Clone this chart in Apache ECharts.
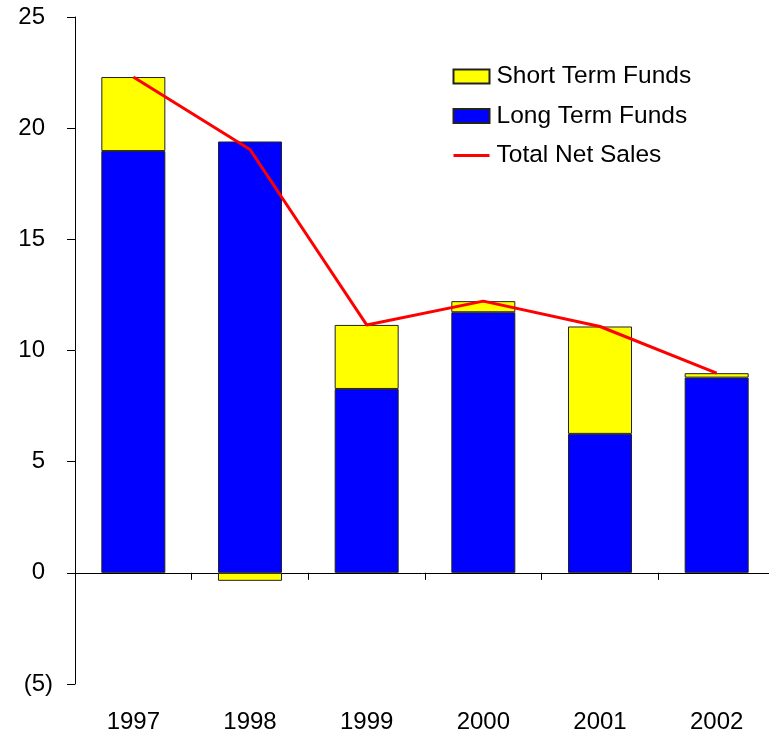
<!DOCTYPE html>
<html><head><meta charset="utf-8">
<script src="https://cdn.jsdelivr.net/npm/echarts@6/dist/echarts.min.js"></script>
<style>html,body{margin:0;padding:0;background:#fff}#c{width:769px;height:734px}</style>
</head><body><div id="c"></div>
<script>
const categories = ['1997','1998','1999','2000','2001','2002'];
const shortTerm = [3.33, -0.36, 2.88, 0.5, 4.83, 0.2];
const longTerm = [18.97, 19.4, 8.27, 11.72, 6.25, 8.78];
const totalNet = [22.3, 19.04, 11.15, 12.22, 11.08, 8.98];
const yTicks = [-5, 0, 5, 10, 15, 20, 25];

const chart = echarts.init(document.getElementById('c'));
const font = 'Liberation Sans, Arial, sans-serif';
chart.setOption({
  animation: false,
  backgroundColor: '#fff',
  grid: {left: 75, right: -6, top: 17, bottom: 50, containLabel: false, outerBoundsMode: 'none'},
  legend: {
    orient: 'vertical', left: 447, top: 59, itemWidth: 36, itemHeight: 14, itemGap: 14.5,
    textStyle: {fontFamily: font, fontSize: 24.5, color: '#000', padding: [0,0,0,2]},
    data: [
      {name: 'Short Term Funds', icon: 'rect'},
      {name: 'Long Term Funds', icon: 'rect'},
      {name: 'Total Net Sales', icon: 'line', itemStyle: {color: '#FF0000', borderColor: '#FF0000', borderWidth: 3}}
    ]
  },
  xAxis: [
    {
      type: 'category', data: categories,
      axisLine: {onZero: true, lineStyle: {color: '#000', width: 1}},
      axisTick: {show: true, inside: false, length: 7, lineStyle: {color: '#000'}},
      axisLabel: {show: false},
      splitLine: {show: false}
    },
    {
      type: 'category', data: categories, position: 'bottom',
      axisLine: {show: false, onZero: false},
      axisTick: {show: false},
      axisLabel: {fontFamily: font, fontSize: 24, color: '#000', margin: 26},
      splitLine: {show: false}
    }
  ],
  yAxis: {
    type: 'value', min: yTicks[0], max: yTicks[yTicks.length-1], interval: 5,
    axisLine: {show: true, lineStyle: {color: '#000', width: 1}},
    axisTick: {show: true, length: 8, lineStyle: {color: '#000'}},
    splitLine: {show: false},
    axisLabel: {
      fontFamily: font, fontSize: 24, color: '#000', margin: 22,
      formatter: v => v < 0 ? '{n|(' + (-v) + ')}' : '{p|' + v + '}',
      rich: {
        n: {fontFamily: font, fontSize: 24, color: '#000'},
        p: {fontFamily: font, fontSize: 24, color: '#000', padding: [0, 8, 0, 0]}
      }
    }
  },
  series: [
    {
      name: 'Long Term Funds', type: 'bar', stack: 'a', data: longTerm, barWidth: 64, xAxisIndex: 0,
      itemStyle: {color: '#0000FF', borderColor: '#222', borderWidth: 1}
    },
    {
      name: 'Short Term Funds', type: 'bar', stack: 'a', data: shortTerm, barWidth: 64, xAxisIndex: 0,
      itemStyle: {color: '#FFFF00', borderColor: '#222', borderWidth: 1}
    },
    {
      name: 'Total Net Sales', type: 'line', data: totalNet, symbol: 'none', xAxisIndex: 0,
      lineStyle: {color: '#FF0000', width: 3}, itemStyle: {color: '#FF0000'}, z: 5
    }
  ]
});
</script></body></html>
